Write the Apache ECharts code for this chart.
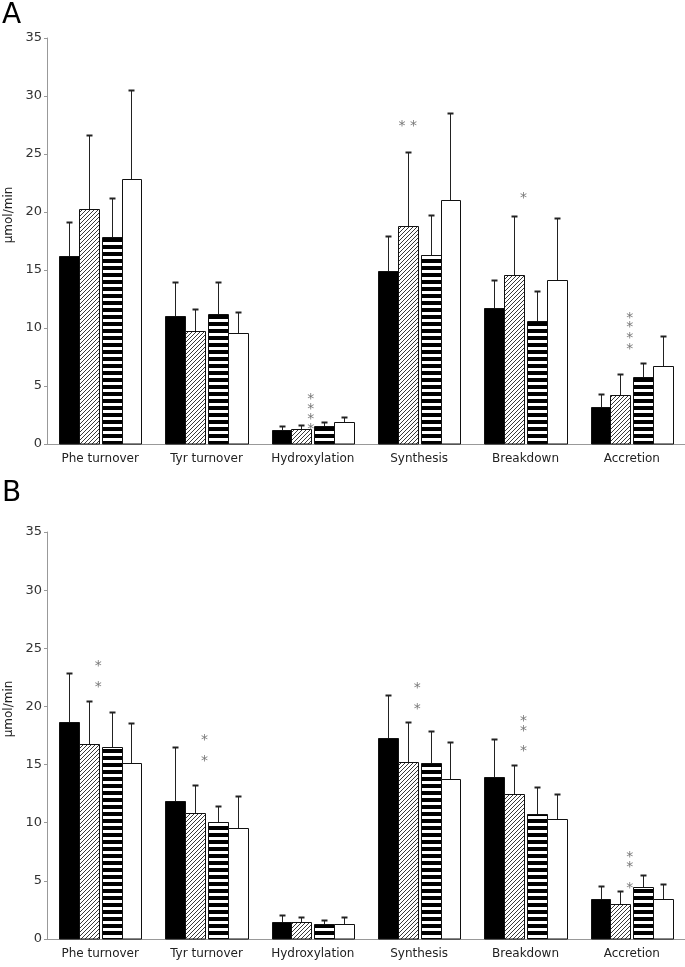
<!DOCTYPE html>
<html>
<head>
<meta charset="utf-8">
<style>
html,body{margin:0;padding:0;background:#fff;}
#chart{width:685px;height:967px;}
</style>
<script src="https://cdn.jsdelivr.net/npm/echarts/dist/echarts.min.js"></script>
</head>
<body>
<div id="chart"></div>
<script>
// ---------- DATA ----------
const categories = ['Phe turnover', 'Tyr turnover', 'Hydroxylation', 'Synthesis', 'Breakdown', 'Accretion'];
const yTicks = [0, 5, 10, 15, 20, 25, 30, 35];

// Panel A means and SD (error above bar)
const aBlack     = [16.2, 11.0, 1.17, 14.9, 11.75, 3.22];
const aHatched   = [20.25, 9.7, 1.29, 18.8, 14.6, 4.22];
const aStriped   = [17.85, 11.2, 1.58, 16.3, 10.6, 5.77];
const aWhite     = [22.85, 9.6, 1.86, 21.05, 14.15, 6.75];
const aBlackSD   = [2.95, 3.0, 0.35, 3.0, 2.35, 1.08];
const aHatchedSD = [6.4, 1.9, 0.31, 6.35, 5.05, 1.84];
const aStripedSD = [3.4, 2.75, 0.34, 3.45, 2.6, 1.2];
const aWhiteSD   = [7.65, 1.8, 0.49, 7.5, 5.35, 2.55];

// Panel B means and SD
const bBlack     = [18.7, 11.85, 1.49, 17.3, 13.9, 3.44];
const bHatched   = [16.8, 10.85, 1.49, 15.25, 12.5, 2.98];
const bStriped   = [16.5, 10.05, 1.32, 15.15, 10.75, 4.47];
const bWhite     = [15.1, 9.55, 1.32, 13.8, 10.35, 3.44];
const bBlackSD   = [4.2, 4.65, 0.54, 3.7, 3.3, 1.12];
const bHatchedSD = [3.65, 2.4, 0.37, 3.45, 2.45, 1.17];
const bStripedSD = [3.0, 1.35, 0.31, 2.7, 2.3, 1.03];
const bWhiteSD   = [3.45, 2.75, 0.54, 3.1, 2.1, 1.26];

// Significance marks: [category index, value level, anchor ('c' group centre, 'h' hatched bar), text]
const starsA = [
  [2, 4.2, 'c', '*'], [2, 3.34, 'c', '*'], [2, 2.48, 'c', '*'], [2, 1.6, 'c', '*'],
  [3, 27.7, 'h', '* *'],
  [4, 21.55, 'c', '*'],
  [5, 11.2, 'c', '*'], [5, 10.36, 'c', '*'], [5, 9.46, 'c', '*'], [5, 8.54, 'c', '*']
];
const starsB = [
  [0, 23.78, 'c', '*'], [0, 22.01, 'c', '*'],
  [1, 17.39, 'c', '*'], [1, 15.61, 'c', '*'],
  [3, 21.87, 'c', '*'], [3, 20.06, 'c', '*'],
  [4, 19.03, 'c', '*'], [4, 18.19, 'c', '*'], [4, 16.45, 'c', '*'],
  [5, 7.39, 'c', '*'], [5, 6.53, 'c', '*'], [5, 4.73, 'c', '*']
];

// ---------- STYLE / LAYOUT ----------
const FONT = 'DejaVu Sans';
const BAR_W = 0.187;                       // bar width as fraction of band
const OFFS = [-0.2945, -0.1075, 0.1075, 0.2945]; // bar centre offsets (fraction of band)

function makeHatch() {
  const s = 4, c = document.createElement('canvas');
  c.width = s; c.height = s;
  const g = c.getContext('2d');
  g.fillStyle = '#fff'; g.fillRect(0, 0, s, s);
  g.strokeStyle = '#222'; g.lineWidth = 0.9;
  g.beginPath();
  g.moveTo(-1, s + 1); g.lineTo(s + 1, -1);
  g.moveTo(-1, 1); g.lineTo(1, -1);
  g.moveTo(s - 1, s + 1); g.lineTo(s + 1, s - 1);
  g.stroke();
  return c;
}
function makeStripes() {
  const c = document.createElement('canvas');
  c.width = 4; c.height = 7;
  const g = c.getContext('2d');
  g.fillStyle = '#fff'; g.fillRect(0, 0, 4, 7);
  g.fillStyle = '#000'; g.fillRect(0, 0, 4, 4);
  return c;
}
const FILLS = [
  '#000',
  { image: makeHatch(), repeat: 'repeat' },
  { image: makeStripes(), repeat: 'repeat' },
  '#fff'
];

function barRender(g) {
  return function (params, api) {
    const ci = api.value(0), m = api.value(1), sd = api.value(2);
    const band = api.size([1, 0])[0];
    const base = api.coord([ci, 0]);
    const yTop = api.coord([ci, m])[1];
    const yErr = api.coord([ci, m + sd])[1];
    const w = band * BAR_W;
    const cx = base[0] + band * OFFS[g];
    const x0 = Math.round(cx - w / 2) + 0.5;
    const x1 = Math.round(cx + w / 2) + 0.5;
    const yb = Math.round(base[1]);
    const yt = Math.round(yTop) + 0.5;
    const ye = Math.round(yErr) + 0.5;
    const xm = Math.round(cx) + 0.5;
    return {
      type: 'group',
      children: [
        { type: 'line', shape: { x1: xm, y1: yt, x2: xm, y2: ye }, style: { stroke: '#222', lineWidth: 1 } },
        { type: 'line', shape: { x1: xm - 3, y1: ye, x2: xm + 3, y2: ye }, style: { stroke: '#222', lineWidth: 2 } },
        { type: 'rect', shape: { x: x0, y: yt, width: x1 - x0, height: yb - yt }, style: { fill: FILLS[g], stroke: '#111', lineWidth: 1 } }
      ]
    };
  };
}

function starRender(params, api) {
  const ci = api.value(0), v = api.value(1), anchor = api.value(2);
  const band = api.size([1, 0])[0];
  const p = api.coord([ci, v]);
  const x = anchor === 'h' ? p[0] + band * OFFS[1] : p[0] - 2;
  return {
    type: 'text',
    style: {
      x: x, y: p[1] + 4, text: api.value(3),
      fill: '#777', font: '14px "' + FONT + '"',
      align: 'center', verticalAlign: 'middle'
    }
  };
}

function panelSeries(idx, groups, sds, stars) {
  const out = groups.map((arr, g) => ({
    type: 'custom',
    xAxisIndex: idx, yAxisIndex: idx,
    renderItem: barRender(g),
    encode: { x: 0, y: [1] },
    data: arr.map((v, i) => [i, v, sds[g][i]]),
    silent: true
  }));
  out.push({
    type: 'custom',
    xAxisIndex: idx, yAxisIndex: idx,
    renderItem: starRender,
    encode: { x: 0, y: 1 },
    dimensions: ['cat', 'val', { name: 'anchor', type: 'ordinal' }, { name: 'txt', type: 'ordinal' }],
    data: stars,
    silent: true, z: 5
  });
  return out;
}

function xAxisFor(idx) {
  return {
    type: 'category', gridIndex: idx, data: categories,
    axisLine: { lineStyle: { color: '#999', width: 1 } },
    axisTick: { show: false },
    axisLabel: { color: '#222', fontSize: 12, fontFamily: FONT, margin: 9, interval: 0 }
  };
}
function yAxisFor(idx) {
  return {
    type: 'value', gridIndex: idx,
    min: yTicks[0], max: yTicks[yTicks.length - 1], interval: yTicks[1] - yTicks[0],
    splitLine: { show: false },
    axisLine: { show: true, lineStyle: { color: '#999', width: 1 } },
    axisTick: { show: true, length: 3, lineStyle: { color: '#999' } },
    axisLabel: { color: '#333', fontSize: 13, fontFamily: FONT, margin: 5 }
  };
}

const chart = echarts.init(document.getElementById('chart'), null, { renderer: 'canvas' });
chart.setOption({
  animation: false,
  backgroundColor: '#fff',
  grid: [
    { left: 47, top: 38, width: 642, height: 406 },
    { left: 47, top: 532, width: 642, height: 407 }
  ],
  xAxis: [xAxisFor(0), xAxisFor(1)],
  yAxis: [yAxisFor(0), yAxisFor(1)],
  graphic: [
    { type: 'text', left: 2, top: 2, style: { text: 'A', fill: '#000', font: '28px "' + FONT + '"' } },
    { type: 'text', left: 2, top: 480, style: { text: 'B', fill: '#000', font: '28px "' + FONT + '"' } },
    { type: 'text', x: 9, y: 215, rotation: Math.PI / 2, style: { text: 'µmol/min', fill: '#222', font: '12px "' + FONT + '"', align: 'center', verticalAlign: 'middle' } },
    { type: 'text', x: 9, y: 709, rotation: Math.PI / 2, style: { text: 'µmol/min', fill: '#222', font: '12px "' + FONT + '"', align: 'center', verticalAlign: 'middle' } }
  ],
  series: [
    ...panelSeries(0, [aBlack, aHatched, aStriped, aWhite], [aBlackSD, aHatchedSD, aStripedSD, aWhiteSD], starsA),
    ...panelSeries(1, [bBlack, bHatched, bStriped, bWhite], [bBlackSD, bHatchedSD, bStripedSD, bWhiteSD], starsB)
  ]
});
</script>
</body>
</html>
